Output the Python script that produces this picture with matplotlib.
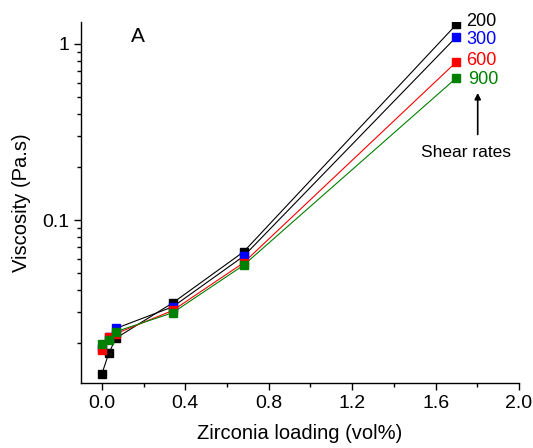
import matplotlib
matplotlib.use("Agg")
import matplotlib.pyplot as plt
from matplotlib.ticker import LogLocator, FixedLocator, MultipleLocator, FuncFormatter, NullFormatter

plt.rcParams['font.family'] = ['Liberation Sans', 'DejaVu Sans']

loading = [0.0, 0.034, 0.068, 0.34, 0.68, 1.70]
visc_200 = [0.0134, 0.01765, 0.0214, 0.0339, 0.0661, 1.289]
visc_300 = [0.0189, 0.0216, 0.0243, 0.0322, 0.0624, 1.096]
visc_600 = [0.0184, 0.0218, 0.0227, 0.0307, 0.0573, 0.790]
visc_900 = [0.0197, 0.0210, 0.0233, 0.0298, 0.0555, 0.641]

series = [
    ("200", visc_200, "black", "black"),
    ("300", visc_300, "blue", "black"),
    ("600", visc_600, "red", "red"),
    ("900", visc_900, "green", "green"),
]
label_pos = {"200": (1.746, 1.346), "300": (1.746, 1.063),
             "600": (1.746, 0.80), "900": (1.755, 0.63)}

fig = plt.figure(figsize=(5.33, 4.48), dpi=100)
ax = fig.add_axes([81/533, 65/448, 438/533, 361/448])

for name, vals, mcol, lcol in series:
    ax.plot(loading, vals, color=lcol, lw=0.8, zorder=2)
for name, vals, mcol, lcol in series:
    ax.plot(loading, vals, ls='none', marker='s', ms=6, mfc=mcol, mec=mcol, zorder=3)
    tx, ty = label_pos[name]
    ax.text(tx, ty, name, color=mcol, fontsize=13, va='center', ha='left')

ax.set_yscale('log')
ax.set_xlim(-0.1, 2.0)
ax.set_ylim(0.0119, 1.33)

ax.xaxis.set_major_locator(MultipleLocator(0.4))
ax.xaxis.set_minor_locator(MultipleLocator(0.2))
ax.xaxis.set_major_formatter(FuncFormatter(lambda v, p: f"{v:.1f}"))
ax.yaxis.set_major_locator(FixedLocator([0.1, 1.0]))
ax.yaxis.set_major_formatter(FuncFormatter(lambda v, p: "0.1" if abs(v-0.1) < 1e-9 else ("1" if abs(v-1) < 1e-9 else "")))
ax.yaxis.set_minor_locator(LogLocator(base=10, subs=range(2, 10)))
ax.yaxis.set_minor_formatter(NullFormatter())

for s in ['top', 'right']:
    ax.spines[s].set_visible(False)
for s in ['left', 'bottom']:
    ax.spines[s].set_linewidth(1.0)

ax.tick_params(which='major', direction='out', length=5, width=1, labelsize=14)
ax.tick_params(which='minor', direction='out', length=3, width=1)

ax.set_xlabel("Zirconia loading (vol%)", fontsize=14.5, labelpad=9)
ax.set_ylabel("Viscosity (Pa.s)", fontsize=14.5, labelpad=8)

ax.annotate("", xy=(1.802, 0.546), xytext=(1.802, 0.295),
            arrowprops=dict(arrowstyle='-|>', color='black', lw=1.2, mutation_scale=9))
ax.text(1.746, 0.2425, "Shear rates", fontsize=12.5, ha='center', va='center')

fig.text(138/533, 1 - 36/448, "A", fontsize=15, ha='center', va='center')

fig.savefig("out.png", dpi=100)
